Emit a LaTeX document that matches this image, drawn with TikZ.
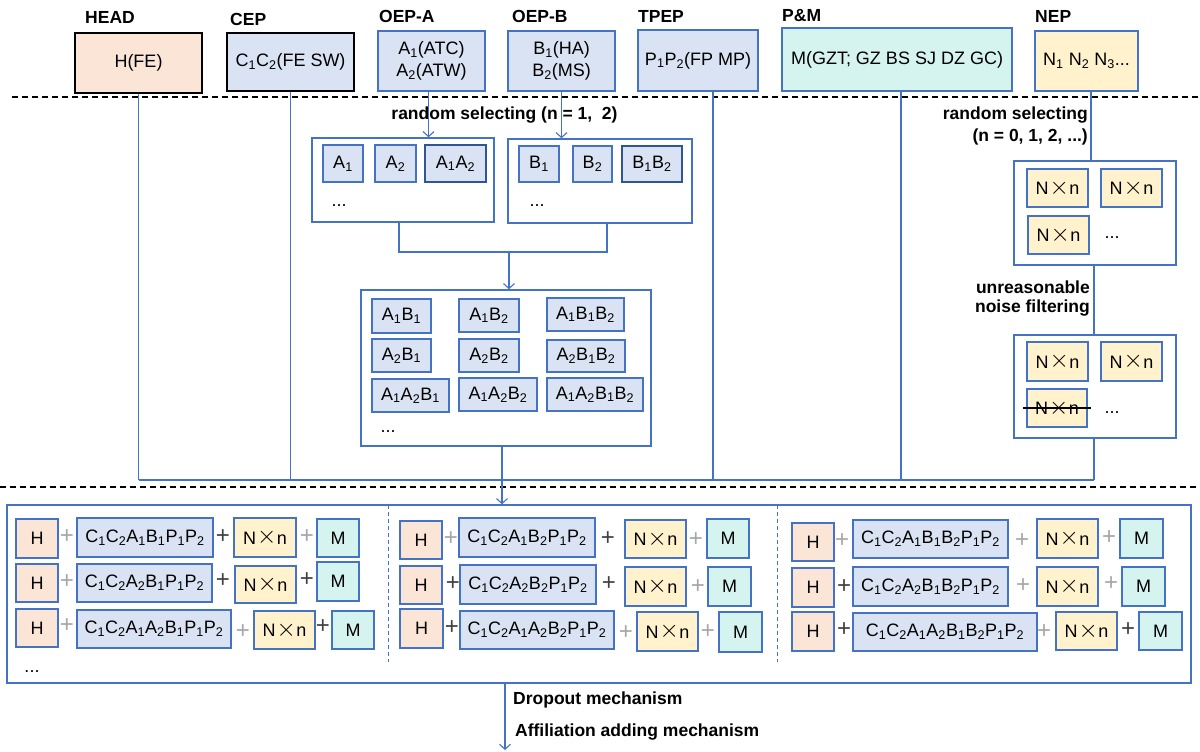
\documentclass[tikz,border=0pt]{standalone}
\usepackage{fontspec}
\setmainfont{Liberation Sans}
\usetikzlibrary{arrows.meta,calc}
\definecolor{bblue}{HTML}{4472C4}
\definecolor{dblue}{HTML}{2F5597}
\definecolor{lblue}{HTML}{DAE3F3}
\definecolor{peach}{HTML}{FBE5D6}
\definecolor{lyel}{HTML}{FFF2CC}
\definecolor{lteal}{HTML}{D5F3EF}
\definecolor{gplus}{HTML}{A6A6A6}
\definecolor{dplus}{HTML}{404040}
\newcommand\subn[1]{\textsubscript{#1}}
\newcommand\Nxn{N\kern1pt\raisebox{0.3pt}{\fontsize{25}{25}\selectfont$\times$}\kern0.5pt n}
\newcommand\rbox[7]{%
  \pgfmathsetmacro\rbCX{(#2+#4)/2}\pgfmathsetmacro\rbCY{(#3+#5)/2}%
  \pgfmathsetmacro\rbW{#4-#2}\pgfmathsetmacro\rbH{#5-#3}%
  \node[#6, minimum width=\rbW pt, minimum height=\rbH pt, inner sep=0pt] (#1) at (\rbCX,\rbCY) {#7};}
\begin{document}
\begin{tikzpicture}[x=1pt,y=-1pt,
  every node/.style={font=\fontsize{18}{22}\selectfont},
  lbl/.style={font=\fontsize{17.5}{21}\selectfont\bfseries, inner sep=0pt},
  bx/.style={draw=bblue, line width=1.4pt},
  kbx/.style={draw=black, line width=1.4pt},
  conn/.style={draw=bblue, line width=1.1pt},
  arr/.style={conn, -{Straight Barb[length=5pt,width=11pt]}},
  gp/.style={text=gplus, font=\fontsize{24}{24}\selectfont, inner sep=0pt},
  dp/.style={text=dplus, font=\fontsize{24}{24}\selectfont, inner sep=0pt},
  hb/.style={bx, fill=peach},
  cb/.style={bx, fill=lblue},
  nb/.style={bx, fill=lyel},
  mb/.style={bx, fill=lteal}]
\useasboundingbox (0,0) rectangle (1200,752);

% dashed separators
\draw[black, line width=1.2pt, dash pattern=on 6pt off 4pt] (12,97) -- (1200,97);
\draw[black, line width=1.2pt, dash pattern=on 6pt off 4pt] (0,487) -- (1200,487);

% top boxes
\rbox{hfe}{75}{33}{202}{93}{kbx,fill=peach}{H(FE)}
\rbox{cep}{227}{33}{354}{91}{kbx,fill=lblue}{C\subn1C\subn2(FE SW)}
\rbox{oepa}{378}{31}{485}{91}{cb,align=center}{A\subn1(ATC)\\A\subn2(ATW)}
\rbox{oepb}{508}{31}{615}{91}{cb,align=center}{B\subn1(HA)\\B\subn2(MS)}
\rbox{tpep}{638}{30}{758}{91}{cb}{P\subn1P\subn2(FP MP)}
\rbox{pm}{782}{28}{1012}{91}{mb}{M(GZT; GZ BS SJ DZ GC)}
\rbox{nep}{1035}{31}{1138}{91}{nb}{N\subn1 N\subn2 N\subn3...}

\node[lbl,anchor=west] (lhead) at (85,17) {HEAD};
\node[lbl,anchor=west] (lcep) at (230,19) {CEP};
\node[lbl,anchor=west] (loepa) at (379,16) {OEP-A};
\node[lbl,anchor=west] (loepb) at (512,16) {OEP-B};
\node[lbl,anchor=west] (ltpep) at (638,16) {TPEP};
\node[lbl,anchor=west] (lpm) at (782,16) {P\&M};
\node[lbl,anchor=west] (lnep) at (1035,16) {NEP};

% A / B selection boxes
\rbox{asub}{312}{138}{494}{222}{bx}{}
\rbox{a1}{323}{145}{363}{182}{cb}{A\subn1}
\rbox{a2}{375}{145}{416}{182}{cb}{A\subn2}
\rbox{a12}{425}{145}{486}{182}{cb,draw=dblue}{A\subn1A\subn2}
\node (adots) at (339,206) {...};
\rbox{bsub}{508}{139}{692}{223}{bx}{}
\rbox{b1}{519}{146}{559}{182}{cb}{B\subn1}
\rbox{b2}{573}{146}{612}{182}{cb}{B\subn2}
\rbox{b12}{622}{146}{682}{182}{cb,draw=dblue}{B\subn1B\subn2}
\node (bdots) at (537,206) {...};

% AB combination box
\rbox{ab}{361}{290}{651}{446}{bx}{}
\rbox{ab11}{372}{299}{431}{333}{cb}{A\subn1B\subn1}
\rbox{ab12}{459}{299}{519}{332}{cb}{A\subn1B\subn2}
\rbox{ab112}{547}{298}{624}{331}{cb}{A\subn1B\subn1B\subn2}
\rbox{ab21}{372}{339}{431}{372}{cb}{A\subn2B\subn1}
\rbox{ab22}{459}{339}{519}{372}{cb}{A\subn2B\subn2}
\rbox{ab212}{547}{340}{625}{372}{cb}{A\subn2B\subn1B\subn2}
\rbox{ab121}{372}{379}{449}{412}{cb}{A\subn1A\subn2B\subn1}
\rbox{ab122}{459}{378}{537}{411}{cb}{A\subn1A\subn2B\subn2}
\rbox{ab1212}{547}{378}{643}{411}{cb}{A\subn1A\subn2B\subn1B\subn2}
\node (abdots) at (388,432) {...};

% noise boxes
\rbox{n1}{1014}{161}{1176}{265}{bx}{}
\rbox{n11}{1027}{169}{1088}{207}{nb}{\Nxn}
\rbox{n12}{1101}{169}{1162}{207}{nb}{\Nxn}
\rbox{n13}{1028}{216}{1089}{254}{nb}{\Nxn}
\node (n1dots) at (1112,238) {...};
\rbox{n2}{1014}{335}{1176}{438}{bx}{}
\rbox{n21}{1027}{342}{1088}{381}{nb}{\Nxn}
\rbox{n22}{1101}{342}{1162}{381}{nb}{\Nxn}
\rbox{n23}{1027}{389}{1087}{427}{nb}{\Nxn}
\draw[black, line width=2.6pt] (n23.west |- 0,408) ++(-3,0) -- (1091,408);
\node (n2dots) at (1112,413) {...};

% labels in the middle
\node[lbl] (rs1) at (504.5,115) {random selecting (n = 1,~~2)};
\node[lbl,anchor=east] (rs2a) at (1088,115) {random selecting};
\node[lbl,anchor=east] (rs2b) at (1088,137) {(n = 0, 1, 2, ...)};
\node[lbl,anchor=east] (unr1) at (1090,287) {unreasonable};
\node[lbl,anchor=east] (unr2) at (1090,308) {noise filtering};

% bottom box
\rbox{bot}{7}{505}{1191}{683}{bx}{}
\draw[bblue, line width=1pt, dash pattern=on 4pt off 3pt] (388,505) -- (388,662);
\draw[bblue, line width=1pt, dash pattern=on 4pt off 3pt] (777,505) -- (777,662);
\node (botdots) at (32,672) {...};

% panel 1
\rbox{p1h1}{16}{519}{58}{558}{hb}{H}
\rbox{p1c1}{77}{518}{213}{557}{cb}{C\subn1C\subn2A\subn1B\subn1P\subn1P\subn2}
\rbox{p1n1}{234}{518}{296}{557}{nb}{\Nxn}
\rbox{p1m1}{317}{519}{359}{557}{mb}{M}
\node[gp] at (67,537) {+}; \node[dp] at (223,537) {+}; \node[gp] at (307,537) {+};
\rbox{p1h2}{16}{564}{58}{602}{hb}{H}
\rbox{p1c2}{77}{564}{212}{602}{cb}{C\subn1C\subn2A\subn2B\subn1P\subn1P\subn2}
\rbox{p1n2}{235}{566}{296}{603}{nb}{\Nxn}
\rbox{p1m2}{317}{562}{359}{601}{mb}{M}
\node[gp] at (67,582) {+}; \node[dp] at (223,581) {+}; \node[dp] at (307,580) {+};
\rbox{p1h3}{16}{609}{58}{647}{hb}{H}
\rbox{p1c3}{77}{610}{231}{648}{cb}{C\subn1C\subn2A\subn1A\subn2B\subn1P\subn1P\subn2}
\rbox{p1n3}{254}{611}{315}{649}{nb}{\Nxn}
\rbox{p1m3}{332}{611}{374}{649}{mb}{M}
\node[gp] at (67,626) {+}; \node[gp] at (243,632) {+}; \node[dp] at (323,627) {+};

% panel 2
\rbox{p2h1}{400}{521}{442}{559}{hb}{H}
\rbox{p2c1}{459}{518}{595}{557}{cb}{C\subn1C\subn2A\subn1B\subn2P\subn1P\subn2}
\rbox{p2n1}{625}{520}{686}{558}{nb}{\Nxn}
\rbox{p2m1}{707}{519}{749}{558}{mb}{M}
\node[gp] at (451,539) {+}; \node[dp] at (608,539) {+}; \node[gp] at (696,540) {+};
\rbox{p2h2}{400}{566}{442}{604}{hb}{H}
\rbox{p2c2}{460}{565}{596}{604}{cb}{C\subn1C\subn2A\subn2B\subn2P\subn1P\subn2}
\rbox{p2n2}{625}{567}{686}{606}{nb}{\Nxn}
\rbox{p2m2}{708}{567}{751}{606}{mb}{M}
\node[dp] at (453,584) {+}; \node[dp] at (609,584) {+}; \node[gp] at (698,587) {+};
\rbox{p2h3}{400}{609}{443}{648}{hb}{H}
\rbox{p2c3}{460}{611}{614}{649}{cb}{C\subn1C\subn2A\subn1A\subn2B\subn2P\subn1P\subn2}
\rbox{p2n3}{637}{612}{698}{651}{nb}{\Nxn}
\rbox{p2m3}{719}{612}{762}{652}{mb}{M}
\node[dp] at (452,628) {+}; \node[gp] at (626,633) {+}; \node[gp] at (708,632) {+};

% panel 3
\rbox{p3h1}{792}{523}{834}{561}{hb}{H}
\rbox{p3c1}{853}{520}{1008}{558}{cb}{C\subn1C\subn2A\subn1B\subn1B\subn2P\subn1P\subn2}
\rbox{p3n1}{1037}{519}{1098}{558}{nb}{\Nxn}
\rbox{p3m1}{1120}{519}{1163}{558}{mb}{M}
\node[gp] at (842,541) {+}; \node[gp] at (1022,541) {+}; \node[gp] at (1109,538) {+};
\rbox{p3h2}{792}{568}{834}{607}{hb}{H}
\rbox{p3c2}{853}{567}{1008}{606}{cb}{C\subn1C\subn2A\subn2B\subn1B\subn2P\subn1P\subn2}
\rbox{p3n2}{1037}{567}{1098}{606}{nb}{\Nxn}
\rbox{p3m2}{1122}{567}{1165}{606}{mb}{M}
\node[dp] at (844,587) {+}; \node[gp] at (1023,586) {+}; \node[gp] at (1111,584) {+};
\rbox{p3h3}{792}{612}{834}{651}{hb}{H}
\rbox{p3c3}{853}{613}{1037}{651}{cb}{C\subn1C\subn2A\subn1A\subn2B\subn1B\subn2P\subn1P\subn2}
\rbox{p3n3}{1056}{612}{1117}{650}{nb}{\Nxn}
\rbox{p3m3}{1139}{612}{1182}{650}{mb}{M}
\node[dp] at (844,630) {+}; \node[gp] at (1044,632) {+}; \node[dp] at (1128,630) {+};

% bottom labels
\node[lbl,anchor=west] (drop) at (513,700) {Dropout mechanism};
\node[lbl,anchor=west] (affil) at (515,732) {Affiliation adding mechanism};

% connectors
\coordinate (hlL) at (136,480);
\coordinate (tpl) at ([xshift=15pt]tpep.south);
\coordinate (pml) at ([xshift=4pt]pm.south);
\coordinate (nel) at ([xshift=4.5pt]nep.south);
\coordinate (n1b) at ([xshift=-1pt]n1.south);
\coordinate (n2b) at ([xshift=-1pt]n2.south);
\draw[conn] (hfe.south) -- (hfe.south |- hlL);
\draw[conn] (cep.south) -- (cep.south |- hlL);
\draw[conn] (tpl) -- (tpl |- hlL);
\draw[conn] (pml) -- (pml |- hlL);
\draw[conn] (nel) -- (nel |- n1.north);
\draw[conn] (n1b) -- (n1b |- n2.north);
\draw[conn] (n2b) -- (n2b |- hlL);
\draw[conn] (hfe.south |- hlL) -- (n2b |- hlL);

\coordinate (oal) at ([xshift=-3pt]oepa.south);
\draw[arr] (oal) -- (oal |- asub.north);
\draw[arr] (oepb.south) -- (oepb.south |- bsub.north);
\coordinate (asl) at ([xshift=-4pt]asub.south);
\coordinate (bsl) at ([xshift=7pt]bsub.south);
\coordinate (abj) at (509,252);
\draw[conn] (asl) |- (abj) -| (bsl);
\draw[arr] (abj) -- (abj |- ab.north);
\coordinate (abs) at ([xshift=-4pt]ab.south);
\draw[arr] (abs) -- (abs |- bot.north);
\coordinate (outend) at (505,750);
\draw[arr] (outend |- bot.south) -- (outend);
\end{tikzpicture}
\end{document}
